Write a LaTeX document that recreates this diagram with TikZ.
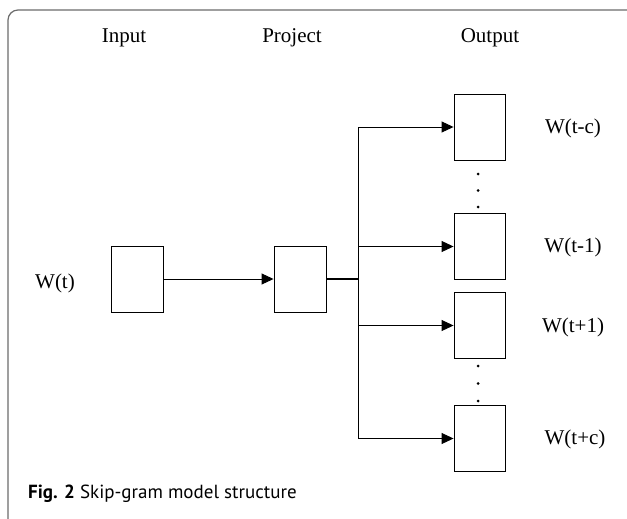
\documentclass[tikz,border=0pt]{standalone}
\usepackage{fontspec}
\setmainfont{Liberation Serif}
\newfontfamily\capfont{PT Sans}
\usetikzlibrary{arrows.meta}
\tikzset{
  unitbox/.style={draw=black, line width=0.9pt, minimum width=52pt, minimum height=66pt, inner sep=0pt},
  lbl/.style={font=\fontsize{21}{25}\selectfont, inner sep=0pt, anchor=base},
  conn/.style={draw=black, line width=0.9pt},
  arr/.style={conn, -{Triangle[length=12pt,width=11pt]}},
  dotmark/.style={circle, fill=black, inner sep=0pt, minimum size=3pt},
}
\begin{document}
\begin{tikzpicture}[x=1pt,y=-1pt]
\useasboundingbox (0,0) rectangle (627,519);
% frame
\draw[line width=1.2pt, gray!85!black, rounded corners=10pt] (8,519) -- (8,10) -- (627,10);
% headers
\node[lbl] (hin) at (124,43) {Input};
\node[lbl] (hpr) at (292,43) {Project};
\node[lbl] (hout) at (490,43) {Output};
% boxes
\node[unitbox] (in) at (137,279) {};
\node[unitbox] (pr) at (300,279) {};
\node[unitbox, minimum width=51pt] (oc) at (479.5,127) {};
\node[unitbox, minimum width=51pt] (o1) at (479.5,246.5) {};
\node[unitbox, minimum width=51pt] (op1) at (479.5,325.5) {};
\node[unitbox, minimum width=51pt] (opc) at (479.5,438.5) {};
% labels
\node[lbl] (lwt) at (55,288) {W(t)};
\node[lbl] (lwc) at (573,133) {W(t-c)};
\node[lbl] (lw1) at (573,252) {W(t-1)};
\node[lbl] (lwp1) at (573,332) {W(t+1)};
\node[lbl] (lwpc) at (575,444) {W(t+c)};
% dots
\node[dotmark] (d1) at (478,174) {};
\node[dotmark] (d2) at (478,190.5) {};
\node[dotmark] (d3) at (478,207) {};
\node[dotmark] (d4) at (478,366) {};
\node[dotmark] (d5) at (478,383.5) {};
\node[dotmark] (d6) at (478,401) {};
% connectors
\coordinate (j) at (358,279);
\coordinate (jc) at (358,127);
\coordinate (j1) at (358,246.5);
\coordinate (jp1) at (358,325.5);
\coordinate (jpc) at (358,438.5);
\draw[arr] (in.east) -- (pr.west);
\draw[conn, line width=1.3pt] (pr.east) -- (j);
\draw[conn] (jc) -- (jpc);
\draw[arr] (jc) -- (oc.west);
\draw[arr] (j1) -- (o1.west);
\draw[arr] (jp1) -- (op1.west);
\draw[arr] (jpc) -- (opc.west);
% caption
\node[anchor=base west, inner sep=0pt, font=\capfont\fontsize{19}{23}\selectfont] (cap) at (28,498) {\textbf{Fig. 2} Skip-gram model structure};
\end{tikzpicture}
\end{document}
